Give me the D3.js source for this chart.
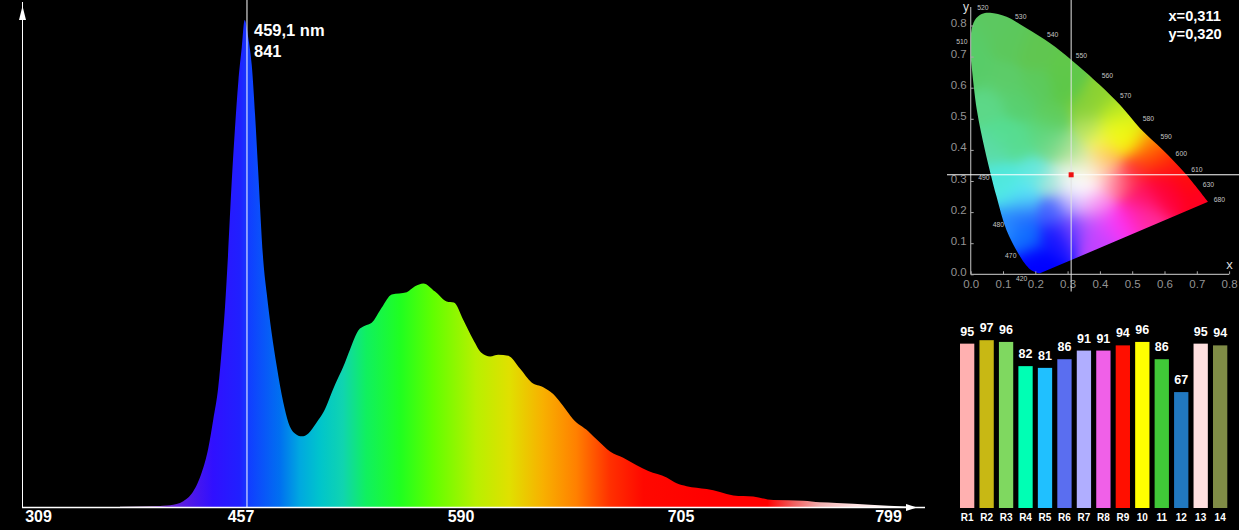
<!DOCTYPE html>
<html>
<head>
<meta charset="utf-8">
<script src="https://cdn.jsdelivr.net/npm/d3@7"></script>
<style>
html,body{margin:0;padding:0;background:#000;overflow:hidden}
svg{display:block}
text{font-family:"Liberation Sans",Arial,sans-serif}
</style>
</head>
<body>
<div id="chart"></div>
<script>
// ---- Spectrum data ----
const tickNm = [309, 457, 590, 705, 799];
const spectrumNm = [366.7,388.7,403.3,413.0,420.3,426.4,431.3,434.9,438.6,441.1,443.5,445.5,448.4,450.8,453.2,455.7,457.7,459.9,462.0,464.0,465.9,469.0,471.0,474.0,477.1,481.1,484.1,488.1,492.2,496.2,501.2,505.2,512.3,517.3,521.4,526.4,530.4,534.5,540.5,546.6,555.7,560.7,565.7,572.8,579.8,584.2,589.9,595.1,599.5,603.9,608.2,613.4,619.5,625.6,631.7,636.9,642.2,647.2,655.2,660.5,666.6,673.5,680.5,686.6,696.2,701.4,706.4,715.5,721.5,727.6,736.6,745.7,759.3,766.8,774.4,789.5,806];
const spectrumI = [0.5,1.4,3.1,10,27,59,102,151,208,272,346,427,562,655,734,793,841,810,763,677,579,424,370,301,243,180,146,127,122,127,146,163,211,242,272,305,313,318,344,367,371,381,386,372,355,353,323,289,266,260,263,261,239,215,207,195,174,152,131,114,96,85,72,62,51,41,36,31,26,20,18,12,11,8,7,4,1];
const gradNm = [366.7,388.7,401,418,434.7,454.4,461,479,491,503,517,531,552,571.5,596.5,614,631.6,649,666.6,684,717,743,755,767,782,803];
const gradColor = ["#e8d0f0","#c8a0e0","#7028d0","#5018e8","#3010ff","#2020ff","#1040ff","#0070f0","#00a8e0","#00c4cc","#10d4b0","#10f060","#20ff20","#60ff00","#b8f000","#e0e000","#f8b000","#ff8000","#ff3000","#ff0800","#ff0000","#ff0000","#f06060","#f0b0b0","#ffe0e0","#ffffff"];
const peakNm = 459.1, peakValue = 841;
const peakLabel = ["459,1 nm", "841"];

// ---- Chromaticity data ----
const cieX = 0.311, cieY = 0.320;
const cieLabel = ["x=0,311", "y=0,320"];
const cieTicksX = [0,0.1,0.2,0.3,0.4,0.5,0.6,0.7,0.8];
const cieTicksY = [0,0.1,0.2,0.3,0.4,0.5,0.6,0.7,0.8];
const locusX = [.2145,.202,.189,.171,.153,.111,.08,.044,.019,.003,0,.001,.013,.034,.06,.111,.173,.246,.31,.40,.462,.524,.595,.663,.735];
const locusY = [.003,.006,.012,.03,.057,.142,.25,.40,.528,.668,.70,.776,.818,.837,.841,.828,.791,.743,.691,.609,.545,.470,.40,.326,.233];
const nmNames = ["520","530","540","550","560","570","580","590","600","610","630","680","510","490","480","470","420"];
const nmX = [.038,.155,.254,.343,.423,.48,.55,.605,.652,.7,.736,.77,-.027,.041,.086,.124,.158];
const nmY = [.858,.828,.769,.703,.639,.575,.501,.441,.389,.336,.288,.241,.749,.31,.158,.059,-.013];
const fieldX = [.00,.06,.12,.20,.10,.20,.30,.30,.40,.36,.25,.05,.01,.15,.10,.15,.22,.25,.30,.37,.44,.50,.46,.40,.55,.50,.545,.60,.65,.72,.66,.60,.50,.47,.55,.52,.45,.42,.36,.33,.38,.31,.41,.37,.31,.25,.19,.10,.08,.12,.16,.07,.10,.15,.17,.20,.26,.25,.31,.37,.40,.46,.54,.60,.40,.34,.48,.44,.56,.52,.58,.42,.50,.43];
const fieldY = [.75,.80,.75,.72,.62,.60,.60,.66,.58,.54,.50,.55,.65,.55,.45,.42,.45,.42,.40,.47,.52,.47,.44,.42,.43,.43,.40,.36,.30,.24,.33,.28,.325,.30,.25,.26,.30,.31,.30,.29,.34,.32,.36,.23,.23,.30,.33,.30,.30,.25,.25,.40,.165,.20,.12,.04,.12,.20,.15,.165,.12,.165,.20,.26,.22,.37,.44,.46,.38,.36,.32,.16,.20,.38];
const fieldC = ["#58cc68","#5cc860","#5cc85c","#60c650","#5ccc68","#5cca5c","#5cc848","#60c84a","#8cd230","#88d038","#60cc5a","#5cd888","#58cc68","#58d070","#55dd90","#58dc90","#58d880","#78d88a","#a0e090","#b0e060","#b8e820","#c8f020","#f0f818","#ffff60","#ff9000","#ffff10","#ff7000","#ff3000","#ff0010","#ff0020","#ff1808","#ff0030","#ff1830","#ff5070","#ff1060","#ff1060","#ff80a0","#ffd0e0","#ffffff","#ffffff","#fff4e0","#f0f4f0","#ffd070","#f8d0ff","#c0b0ff","#a8e8d8","#60e8e0","#50e8d8","#50e8e0","#50eeee","#60e8f8","#5cdca8","#2890ff","#2060ff","#1070ff","#0000ff","#1010ff","#4060ff","#7040ff","#b050ff","#c040ff","#ff30f0","#ff30a0","#ff0040","#ff70e8","#d0e8a0","#ffff00","#e8f820","#ff4000","#ff3820","#ff0820","#f040ff","#ff20c0","#ffb040"];

// ---- Colour rendering data ----
const criNames = ["R1","R2","R3","R4","R5","R6","R7","R8","R9","10","11","12","13","14"];
const criValues = [95,97,96,82,81,86,91,91,94,96,86,67,95,94];
const criColors = ["#ffb0b0","#c8b814","#7fd860","#00ffb4","#20c0ff","#5a6ef0","#b0aeff","#f060e8","#ff0f00","#ffff00","#40c838","#2178c0","#ffe0e0","#808c46"];

const svg = d3.select("#chart").append("svg").attr("width",1239).attr("height",530);
const defs = svg.append("defs");

// ---- Spectrum ----
const x = d3.scaleLinear().domain(tickNm).range([41,243.5,463.5,683.5,891]);
const y = d3.scaleLinear().domain([0,841]).range([507,20]);
const axisLeftPx = 22.5, axisY = 507.5;

const gx0 = x(gradNm[0]), gx1 = x(gradNm[gradNm.length-1]);
const grad = defs.append("linearGradient").attr("id","spec")
  .attr("gradientUnits","userSpaceOnUse")
  .attr("x1",gx0).attr("x2",gx1).attr("y1",0).attr("y2",0);
grad.selectAll("stop").data(gradNm).join("stop")
  .attr("offset",d=>(x(d)-gx0)/(gx1-gx0)).attr("stop-color",(d,i)=>gradColor[i]);

const specPts = spectrumNm.map((n,i)=>[n,spectrumI[i]]);
const area = d3.area().x(d=>x(d[0])).y0(y(0)).y1(d=>y(d[1])).curve(d3.curveMonotoneX);
svg.append("path").attr("d",area(specPts)).attr("fill","url(#spec)");

// axes
svg.append("line").attr("x1",axisLeftPx).attr("x2",axisLeftPx).attr("y1",2).attr("y2",axisY).attr("stroke","#fff").attr("stroke-width",1);
svg.append("path").attr("d",`M${axisLeftPx},6L${axisLeftPx+3.5},20L${axisLeftPx-3.5},20Z`).attr("fill","#fff");
svg.append("line").attr("x1",22).attr("x2",925).attr("y1",axisY).attr("y2",axisY).attr("stroke","#fff").attr("stroke-width",1.4);
svg.append("path").attr("d",`M917,${axisY}L906,${axisY+3.5}L906,${axisY-3.5}Z`).attr("fill","#fff");

// tick labels
svg.selectAll("text.tick").data(tickNm).join("text").attr("class","tick")
  .attr("x",d=>x(d)-2.5).attr("y",522).attr("text-anchor","middle")
  .attr("font-size",16).attr("font-weight","bold").attr("fill","#fff").text(d=>d);

// crosshair
svg.append("line").attr("x1",x(peakNm)).attr("x2",x(peakNm)).attr("y1",0).attr("y2",axisY).attr("stroke","#fff").attr("stroke-width",1);
svg.selectAll("text.peak").data(peakLabel).join("text").attr("class","peak")
  .attr("x",254).attr("y",(d,i)=>36+i*20.5).attr("font-size",16.5).attr("font-weight","bold").attr("fill","#fff").text(d=>d);

// ---- CIE diagram ----
const cx = d3.scaleLinear().domain([0,0.8]).range([970.7,1229.1]);
const cy = d3.scaleLinear().domain([0,0.8]).range([274.3,25.5]);

const locusPts = locusX.map((v,i)=>[v,locusY[i]]);
const locusLine = d3.line().x(d=>cx(d[0])).y(d=>cy(d[1])).curve(d3.curveCatmullRom.alpha(0.5));
defs.append("clipPath").attr("id","locus").append("path").attr("d",locusLine(locusPts)+"Z");

// colour field rendered to a bitmap by Gaussian-weighted averaging of the sampled colours
const fx0=965,fy0=8,fw=250,fh=270,sigma=11;
const cnv=document.createElement("canvas");cnv.width=fw;cnv.height=fh;
const ctx=cnv.getContext("2d");
const img=ctx.createImageData(fw,fh);
const anchors=fieldX.map((v,i)=>{const c=d3.rgb(fieldC[i]);return {x:cx(v),y:cy(fieldY[i]),r:c.r,g:c.g,b:c.b};});
for(let j=0;j<fh;j++){for(let k=0;k<fw;k++){
  const px=fx0+k,py=fy0+j;let W=1e-300,R=0,G=0,B=0;
  for(const a of anchors){
    const d2=(a.x-px)*(a.x-px)+(a.y-py)*(a.y-py);
    const w=Math.exp(-d2/(2*sigma*sigma));W+=w;R+=w*a.r;G+=w*a.g;B+=w*a.b;
  }
  const o=(j*fw+k)*4;img.data[o]=R/W;img.data[o+1]=G/W;img.data[o+2]=B/W;img.data[o+3]=255;
}}
ctx.putImageData(img,0,0);
svg.append("image").attr("href",cnv.toDataURL()).attr("x",fx0).attr("y",fy0).attr("width",fw).attr("height",fh).attr("clip-path","url(#locus)");

const axisGray="#a8a8a8", labelGray="#939393";
const gx=svg.append("g").attr("transform",`translate(0,${cy(0)})`)
  .call(d3.axisBottom(cx).tickValues(cieTicksX).tickSize(-3).tickFormat(d3.format(".1f")).tickPadding(6));
const gy=svg.append("g").attr("transform",`translate(${cx(0)},0)`)
  .call(d3.axisLeft(cy).tickValues(cieTicksY).tickSize(-3).tickFormat(d3.format(".1f")).tickPadding(4));
[gx,gy].forEach(g=>{
  g.selectAll(".domain").attr("stroke",axisGray).attr("stroke-width",1.2);
  g.selectAll(".tick line").attr("stroke",axisGray);
  g.selectAll("text").attr("fill",labelGray).attr("font-size",11.5).attr("font-family","Liberation Sans");
});
gy.selectAll("text").attr("dy","0").attr("y",1);
gy.select(".domain").attr("d",`M0,${cy(0)}V7`);
gx.select(".domain").attr("d",`M${cx(0)},0H${cx(0.8)}`);
gx.selectAll("text").attr("y",6);
svg.append("text").attr("x",966).attr("y",11).attr("text-anchor","middle").attr("font-size",12).attr("fill","#ddd").text("y");
svg.append("text").attr("x",1229.5).attr("y",269).attr("text-anchor","middle").attr("font-size",13).attr("fill","#ddd").text("x");

svg.selectAll("text.nm").data(nmNames).join("text").attr("class","nm")
  .attr("x",(d,i)=>cx(nmX[i])).attr("y",(d,i)=>cy(nmY[i])+2.3).attr("text-anchor","middle")
  .attr("font-size",6.8).attr("fill","#c4c4c4").text(d=>d);

svg.append("line").attr("x1",cx(cieX)).attr("x2",cx(cieX)).attr("y1",0).attr("y2",291.5).attr("stroke","#e4e4e4").attr("stroke-width",1);
svg.append("line").attr("x1",947).attr("x2",1239).attr("y1",cy(cieY)).attr("y2",cy(cieY)).attr("stroke","#fff").attr("stroke-width",1);
svg.append("rect").attr("x",cx(cieX)-2.5).attr("y",cy(cieY)-2.5).attr("width",5).attr("height",5).attr("fill","#ee1111");
svg.selectAll("text.cie").data(cieLabel).join("text").attr("class","cie")
  .attr("x",1168.5).attr("y",(d,i)=>21.3+i*18).attr("font-size",14.6).attr("font-weight","bold").attr("fill","#fff").text(d=>d);

// ---- CRI bars ----
const bx=d3.scaleBand().domain(criNames).range([960,1227.3]).paddingInner(0.265).paddingOuter(0);
const by=d3.scaleLinear().domain([0,100]).range([508,335]);
svg.selectAll("rect.bar").data(criValues).join("rect").attr("class","bar")
  .attr("x",(d,i)=>bx(criNames[i])).attr("width",bx.bandwidth())
  .attr("y",d=>by(d)).attr("height",d=>by(0)-by(d))
  .attr("fill",(d,i)=>criColors[i]);
svg.selectAll("text.val").data(criValues).join("text").attr("class","val")
  .attr("x",(d,i)=>bx(criNames[i])+bx.bandwidth()/2).attr("y",d=>by(d)-8)
  .attr("text-anchor","middle").attr("font-size",12.5).attr("font-weight","bold").attr("fill","#fff").text(d=>d);
svg.selectAll("text.cat").data(criNames).join("text").attr("class","cat")
  .attr("x",d=>bx(d)+bx.bandwidth()/2).attr("y",521)
  .attr("text-anchor","middle").attr("font-size",10).attr("font-weight","bold").attr("fill","#fff").text(d=>d);
</script>
</body>
</html>
